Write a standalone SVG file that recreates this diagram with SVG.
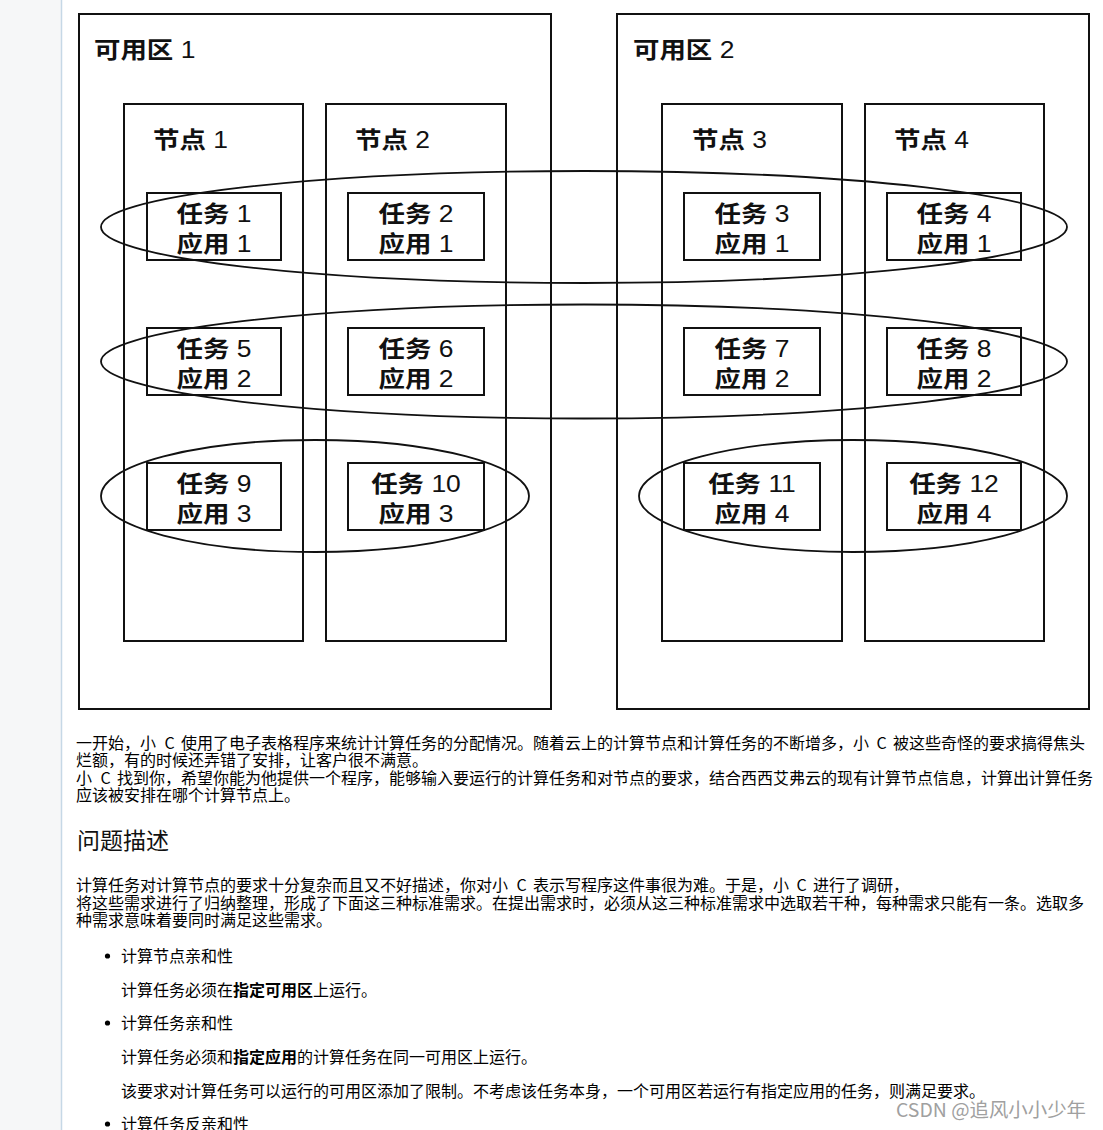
<svg xmlns="http://www.w3.org/2000/svg" width="1103" height="1130" viewBox="0 0 1103 1130">
<style>
.box{fill:none;stroke:#111;stroke-width:2}
.grp{fill:none;stroke:#111;stroke-width:1.8}
.lbl{font-family:"Liberation Sans","Noto Sans CJK SC",sans-serif;font-size:23px;fill:#111}
.lbl .b{font-weight:700}
.mid{text-anchor:middle}
.body{font-family:"Noto Sans CJK SC",sans-serif;font-size:16px;fill:#000}
.head{font-family:"Noto Sans CJK SC",sans-serif;font-size:23px;fill:#111}
.strong{font-weight:700}
.wm{font-family:"Noto Sans CJK SC",sans-serif;font-size:19px;fill:#a0a0a0}
</style>
<rect x="0" y="0" width="1103" height="1130" fill="#fff"/>
<rect x="0" y="0" width="61" height="1130" fill="#f6f7f8"/>
<line x1="61.5" y1="0" x2="61.5" y2="1130" stroke="#c6d8e6" stroke-width="1.5"/>

<g id="zone1">
<rect class="box" x="79" y="14" width="472" height="695"/>
<g transform="translate(94 58) scale(1.15 1)"><text class="lbl"><tspan class="b">可用区</tspan> 1</text></g>
</g>
<g id="zone2">
<rect class="box" x="617" y="14" width="472" height="695"/>
<g transform="translate(633 58) scale(1.15 1)"><text class="lbl"><tspan class="b">可用区</tspan> 2</text></g>
</g>

<g id="node1">
<rect class="box" x="124" y="104" width="179" height="537"/>
<g transform="translate(153 148) scale(1.15 1)"><text class="lbl"><tspan class="b">节点</tspan> 1</text></g>
</g>
<g id="node2">
<rect class="box" x="326" y="104" width="180" height="537"/>
<g transform="translate(355 148) scale(1.15 1)"><text class="lbl"><tspan class="b">节点</tspan> 2</text></g>
</g>
<g id="node3">
<rect class="box" x="662" y="104" width="180" height="537"/>
<g transform="translate(692 148) scale(1.15 1)"><text class="lbl"><tspan class="b">节点</tspan> 3</text></g>
</g>
<g id="node4">
<rect class="box" x="865" y="104" width="179" height="537"/>
<g transform="translate(894 148) scale(1.15 1)"><text class="lbl"><tspan class="b">节点</tspan> 4</text></g>
</g>

<g id="task1"><rect class="box" x="147" y="193" width="134" height="67"/>
<g transform="translate(214 222) scale(1.15 1)"><text class="lbl mid"><tspan class="b">任务</tspan> 1</text></g>
<g transform="translate(214 251.5) scale(1.15 1)"><text class="lbl mid"><tspan class="b">应用</tspan> 1</text></g></g>
<g id="task2"><rect class="box" x="348" y="193" width="136" height="67"/>
<g transform="translate(416 222) scale(1.15 1)"><text class="lbl mid"><tspan class="b">任务</tspan> 2</text></g>
<g transform="translate(416 251.5) scale(1.15 1)"><text class="lbl mid"><tspan class="b">应用</tspan> 1</text></g></g>
<g id="task3"><rect class="box" x="684" y="193" width="136" height="67"/>
<g transform="translate(752 222) scale(1.15 1)"><text class="lbl mid"><tspan class="b">任务</tspan> 3</text></g>
<g transform="translate(752 251.5) scale(1.15 1)"><text class="lbl mid"><tspan class="b">应用</tspan> 1</text></g></g>
<g id="task4"><rect class="box" x="887" y="193" width="134" height="67"/>
<g transform="translate(954 222) scale(1.15 1)"><text class="lbl mid"><tspan class="b">任务</tspan> 4</text></g>
<g transform="translate(954 251.5) scale(1.15 1)"><text class="lbl mid"><tspan class="b">应用</tspan> 1</text></g></g>

<g id="task5"><rect class="box" x="147" y="328" width="134" height="67"/>
<g transform="translate(214 357) scale(1.15 1)"><text class="lbl mid"><tspan class="b">任务</tspan> 5</text></g>
<g transform="translate(214 386.5) scale(1.15 1)"><text class="lbl mid"><tspan class="b">应用</tspan> 2</text></g></g>
<g id="task6"><rect class="box" x="348" y="328" width="136" height="67"/>
<g transform="translate(416 357) scale(1.15 1)"><text class="lbl mid"><tspan class="b">任务</tspan> 6</text></g>
<g transform="translate(416 386.5) scale(1.15 1)"><text class="lbl mid"><tspan class="b">应用</tspan> 2</text></g></g>
<g id="task7"><rect class="box" x="684" y="328" width="136" height="67"/>
<g transform="translate(752 357) scale(1.15 1)"><text class="lbl mid"><tspan class="b">任务</tspan> 7</text></g>
<g transform="translate(752 386.5) scale(1.15 1)"><text class="lbl mid"><tspan class="b">应用</tspan> 2</text></g></g>
<g id="task8"><rect class="box" x="887" y="328" width="134" height="67"/>
<g transform="translate(954 357) scale(1.15 1)"><text class="lbl mid"><tspan class="b">任务</tspan> 8</text></g>
<g transform="translate(954 386.5) scale(1.15 1)"><text class="lbl mid"><tspan class="b">应用</tspan> 2</text></g></g>

<g id="task9"><rect class="box" x="147" y="463" width="134" height="67"/>
<g transform="translate(214 491.5) scale(1.15 1)"><text class="lbl mid"><tspan class="b">任务</tspan> 9</text></g>
<g transform="translate(214 521.5) scale(1.15 1)"><text class="lbl mid"><tspan class="b">应用</tspan> 3</text></g></g>
<g id="task10"><rect class="box" x="348" y="463" width="136" height="67"/>
<g transform="translate(416 491.5) scale(1.15 1)"><text class="lbl mid"><tspan class="b">任务</tspan> 10</text></g>
<g transform="translate(416 521.5) scale(1.15 1)"><text class="lbl mid"><tspan class="b">应用</tspan> 3</text></g></g>
<g id="task11"><rect class="box" x="684" y="463" width="136" height="67"/>
<g transform="translate(752 491.5) scale(1.15 1)"><text class="lbl mid"><tspan class="b">任务</tspan> 11</text></g>
<g transform="translate(752 521.5) scale(1.15 1)"><text class="lbl mid"><tspan class="b">应用</tspan> 4</text></g></g>
<g id="task12"><rect class="box" x="887" y="463" width="134" height="67"/>
<g transform="translate(954 491.5) scale(1.15 1)"><text class="lbl mid"><tspan class="b">任务</tspan> 12</text></g>
<g transform="translate(954 521.5) scale(1.15 1)"><text class="lbl mid"><tspan class="b">应用</tspan> 4</text></g></g>

<g id="connectors">
<ellipse class="grp" cx="584" cy="227" rx="483" ry="56"/>
<ellipse class="grp" cx="584" cy="361.5" rx="483" ry="57"/>
<ellipse class="grp" cx="315" cy="496" rx="214" ry="56"/>
<ellipse class="grp" cx="853" cy="496" rx="214" ry="56"/>
</g>

<g id="article">
<text class="body"><tspan x="76" y="749">一开始，小</tspan><tspan x="164.5" y="749">C</tspan><tspan x="181" y="749">使用了电子表格程序来统计计算任务的分配情况。随着云上的计算节点和计算任务的不断增多，小</tspan><tspan x="876.5" y="749">C</tspan><tspan x="893" y="749">被这些奇怪的要求搞得焦头</tspan><tspan x="76" y="766">烂额，有的时候还弄错了安排，让客户很不满意。</tspan><tspan x="76" y="784">小</tspan><tspan x="100.5" y="784">C</tspan><tspan x="117" y="784">找到你，希望你能为他提供一个程序，能够输入要运行的计算任务和对节点的要求，结合西西艾弗云的现有计算节点信息，计算出计算任务</tspan><tspan x="76" y="801">应该被安排在哪个计算节点上。</tspan></text>

<text class="head" x="77" y="849">问题描述</text>

<text class="body"><tspan x="76" y="891">计算任务对计算节点的要求十分复杂而且又不好描述，你对小</tspan><tspan x="516.5" y="891">C</tspan><tspan x="533" y="891">表示写程序这件事很为难。于是，小</tspan><tspan x="796.5" y="891">C</tspan><tspan x="813" y="891">进行了调研，</tspan><tspan x="76" y="909">将这些需求进行了归纳整理，形成了下面这三种标准需求。在提出需求时，必须从这三种标准需求中选取若干种，每种需求只能有一条。选取多</tspan><tspan x="76" y="926">种需求意味着要同时满足这些需求。</tspan></text>

<circle cx="107.5" cy="956" r="2.6" fill="#000"/>
<text class="body" x="121" y="962">计算节点亲和性</text>
<text class="body" x="121" y="996">计算任务必须在<tspan class="strong">指定可用区</tspan>上运行。</text>
<circle cx="107.5" cy="1023" r="2.6" fill="#000"/>
<text class="body" x="121" y="1029">计算任务亲和性</text>
<text class="body" x="121" y="1063">计算任务必须和<tspan class="strong">指定应用</tspan>的计算任务在同一可用区上运行。</text>
<text class="body" x="121" y="1097">该要求对计算任务可以运行的可用区添加了限制。不考虑该任务本身，一个可用区若运行有指定应用的任务，则满足要求。</text>
<circle cx="107.5" cy="1124" r="2.6" fill="#000"/>
<text class="body" x="121" y="1130">计算任务反亲和性</text>

<text class="wm" x="896" y="1117" textLength="190" lengthAdjust="spacingAndGlyphs">CSDN @追风小小少年</text>
</g>
</svg>
